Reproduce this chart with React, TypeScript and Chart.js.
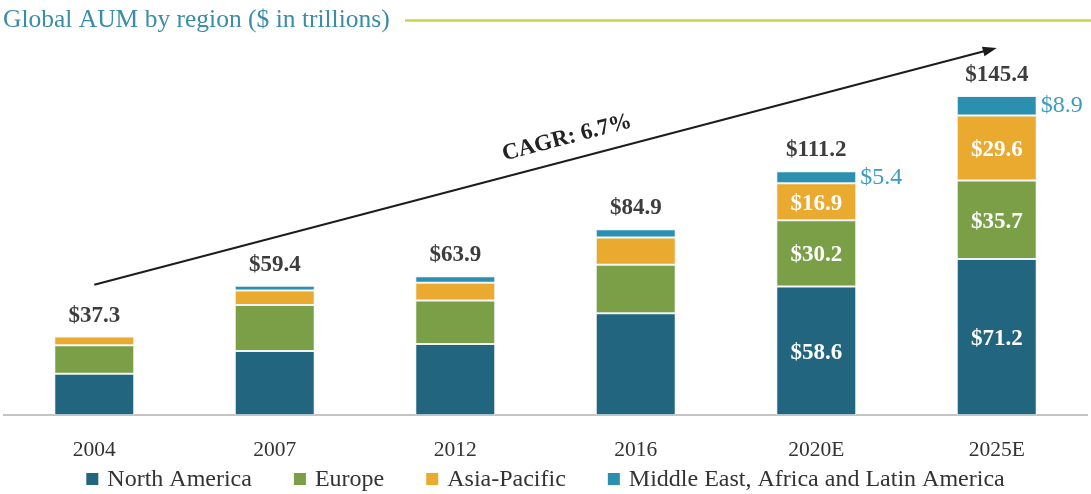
import React, { useEffect, useRef } from "react";
import { Chart, registerables } from "chart.js";

Chart.register(...registerables);

const title = "Global AUM by region ($ in trillions)";
const categories = ["2004", "2007", "2012", "2016", "2020E", "2025E"];
const seriesNames = [
  "North America",
  "Europe",
  "Asia-Pacific",
  "Middle East, Africa and Latin America",
];
const northAmerica = [18.9, 29.3, 32.4, 46.4, 58.6, 71.2];
const europe = [13.0, 20.9, 19.8, 22.1, 30.2, 35.7];
const asiaPacific = [3.9, 6.6, 8.1, 12.5, 16.9, 29.6];
const meaLatam = [0, 2.2, 3.0, 3.7, 5.4, 8.9];
const totals = [37.3, 59.4, 63.9, 84.9, 111.2, 145.4];
const colors = ["#22657E", "#7A9F46", "#EAA92F", "#2B90B0"];
const labelledFrom = 4; // first category whose segments carry value labels
const cagrLabel = "CAGR: 6.7%";
const cagrStart = 59.4; // arrow start value at first category
const cagrEnd = 167.3; // arrow end value at last category
const yMax = 170;

const FONT = "'Liberation Serif', 'Times New Roman', serif";

const overlay = {
  id: "overlay",
  afterDatasetsDraw(chart: any) {
    const { ctx } = chart;
    const x = chart.scales.x;
    const y = chart.scales.y;
    ctx.save();

    // total labels
    ctx.font = `bold 23px ${FONT}`;
    ctx.fillStyle = "#3d3d3d";
    ctx.textAlign = "center";
    ctx.textBaseline = "middle";
    const topMeta = chart.getDatasetMeta(3).data;
    categories.forEach((_, i) => {
      let topY = Infinity;
      for (let d = 0; d < 4; d++) {
        const el = chart.getDatasetMeta(d).data[i];
        if (el && Math.abs(el.base - el.y) > 0.5) topY = Math.min(topY, el.y);
      }
      ctx.fillText("$" + totals[i].toFixed(1), x.getPixelForValue(i), topY - 21);
    });

    // segment labels
    for (let i = labelledFrom; i < categories.length; i++) {
      ctx.font = `bold 23px ${FONT}`;
      ctx.fillStyle = "#ffffff";
      ctx.textAlign = "center";
      for (let d = 0; d < 3; d++) {
        const el = chart.getDatasetMeta(d).data[i];
        const v = chart.data.datasets[d].data[i];
        ctx.fillText("$" + Number(v).toFixed(1), el.x, (el.y + el.base) / 2 + 2);
      }
      const m = topMeta[i];
      ctx.font = `24px ${FONT}`;
      ctx.fillStyle = "#3A9CC0";
      ctx.textAlign = "left";
      ctx.fillText("$" + meaLatam[i].toFixed(1), m.x + m.width / 2 + 4, (m.y + m.base) / 2);
    }

    // CAGR arrow
    const x0 = x.getPixelForValue(0);
    const y0 = y.getPixelForValue(cagrStart);
    const x1 = x.getPixelForValue(categories.length - 1);
    const y1 = y.getPixelForValue(cagrEnd);
    const ang = Math.atan2(y1 - y0, x1 - x0);
    const head = 14;
    ctx.strokeStyle = "#1c1c1c";
    ctx.fillStyle = "#1c1c1c";
    ctx.lineWidth = 2;
    ctx.beginPath();
    ctx.moveTo(x0, y0);
    ctx.lineTo(x1 - Math.cos(ang) * head * 0.8, y1 - Math.sin(ang) * head * 0.8);
    ctx.stroke();
    ctx.beginPath();
    ctx.moveTo(x1, y1);
    ctx.lineTo(
      x1 - Math.cos(ang) * head + Math.sin(ang) * 5,
      y1 - Math.sin(ang) * head - Math.cos(ang) * 5
    );
    ctx.lineTo(
      x1 - Math.cos(ang) * head - Math.sin(ang) * 5,
      y1 - Math.sin(ang) * head + Math.cos(ang) * 5
    );
    ctx.closePath();
    ctx.fill();

    const f = 0.53;
    ctx.translate(x0 + f * (x1 - x0), y0 + f * (y1 - y0));
    ctx.rotate(ang);
    ctx.font = `bold 23px ${FONT}`;
    ctx.fillStyle = "#222222";
    ctx.textAlign = "center";
    ctx.textBaseline = "middle";
    ctx.fillText(cagrLabel, 0, -22);
    ctx.restore();
  },
  afterDraw(chart: any) {
    const { ctx, width } = chart;
    ctx.save();
    // title and rule
    ctx.font = `25.5px ${FONT}`;
    ctx.fillStyle = "#3A8DA6";
    ctx.textAlign = "left";
    ctx.textBaseline = "middle";
    ctx.fillText(title, 3, 20);
    ctx.strokeStyle = "#C9D545";
    ctx.lineWidth = 2.5;
    ctx.beginPath();
    ctx.moveTo(405, 20.5);
    ctx.lineTo(width, 20.5);
    ctx.stroke();

    // legend
    ctx.font = `24px ${FONT}`;
    const box = 12;
    const gapBox = 9;
    const gapItem = 42;
    const widths = seriesNames.map((n) => ctx.measureText(n).width);
    const total =
      widths.reduce((a, b) => a + b, 0) + seriesNames.length * (box + gapBox) + gapItem * (seriesNames.length - 1);
    let cx = (width - total) / 2;
    const cy = 479;
    seriesNames.forEach((n, i) => {
      ctx.fillStyle = colors[i];
      ctx.fillRect(cx, cy - box / 2, box, box);
      ctx.fillStyle = "#333333";
      ctx.fillText(n, cx + box + gapBox, cy + 1);
      cx += box + gapBox + widths[i] + gapItem;
    });
    ctx.restore();
  },
};

export default function App() {
  const ref = useRef<HTMLCanvasElement | null>(null);
  useEffect(() => {
    document.body.style.margin = "0";
    const seriesData = [northAmerica, europe, asiaPacific, meaLatam];
    const chart = new Chart(ref.current as HTMLCanvasElement, {
      type: "bar",
      data: {
        labels: categories,
        datasets: seriesNames.map((name, i) => ({
          label: name,
          data: seriesData[i],
          backgroundColor: colors[i],
          borderColor: "rgba(235,242,245,0.9)",
          borderWidth: 1,
          borderSkipped: false,
          barPercentage: 0.443,
          categoryPercentage: 1,
          stack: "aum",
        })),
      },
      options: {
        animation: false,
        responsive: true,
        maintainAspectRatio: false,
        layout: { padding: { top: 42, left: 4, right: 4, bottom: 9 } },
        plugins: {
          legend: { display: false },
          tooltip: { enabled: false },
          title: { display: false },
        },
        scales: {
          x: {
            stacked: true,
            grid: { display: false, drawTicks: false },
            border: { display: true, color: "#C4C4C4", width: 2 },
            ticks: {
              color: "#333333",
              font: { family: FONT, size: 21.5 },
              padding: 22,
            },
          },
          y: {
            stacked: true,
            display: false,
            min: 0,
            max: yMax,
          },
        },
      },
      plugins: [overlay],
    });
    return () => chart.destroy();
  }, []);
  return (
    <div style={{ width: 1091, height: 494, position: "relative" }}>
      <canvas ref={ref} />
    </div>
  );
}
